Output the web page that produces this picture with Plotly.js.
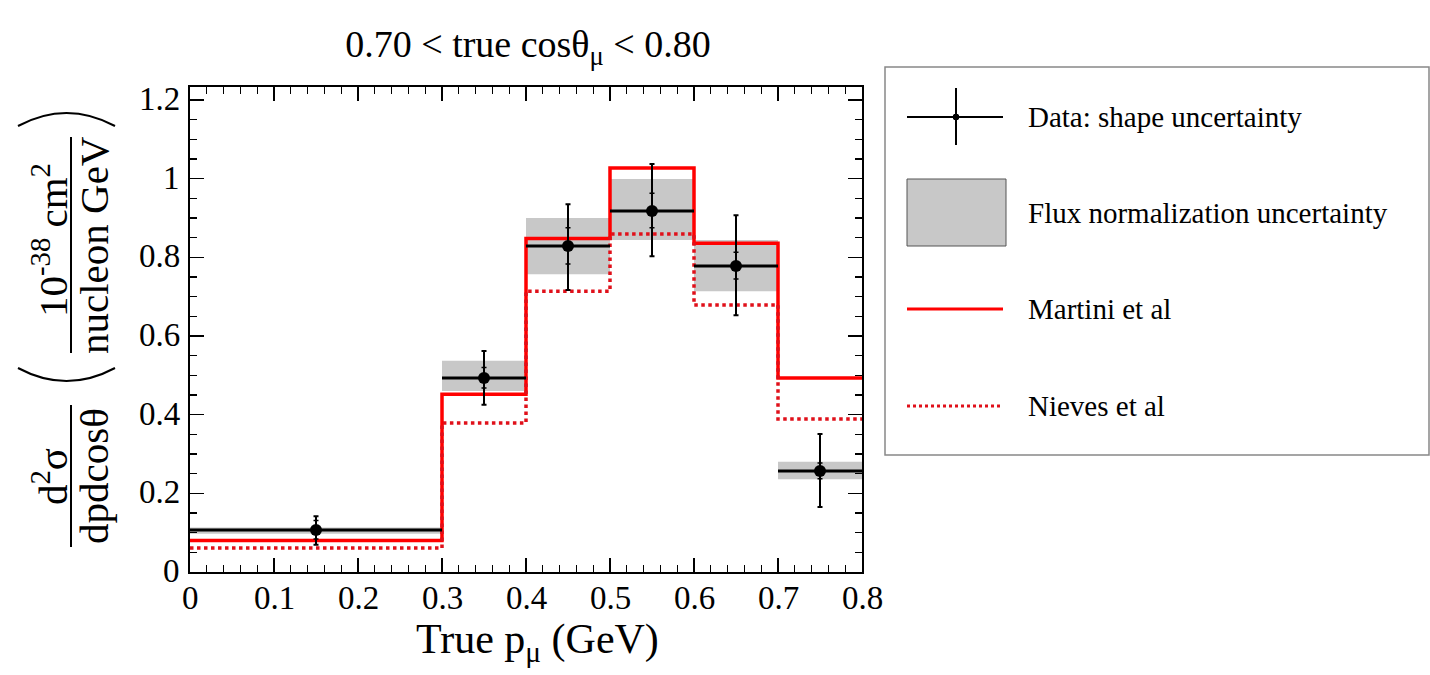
<!DOCTYPE html>
<html>
<head>
<meta charset="utf-8">
<script src="https://cdn.plot.ly/plotly-3.0.1.min.js"></script>
<style>html,body{margin:0;padding:0;background:#fff;}#chart{width:1430px;height:675px;}</style>
</head>
<body>
<div id="chart"></div>
<script>
// ---- data ----
const binLo = [0.0, 0.3, 0.4, 0.5, 0.6, 0.7];
const binHi = [0.3, 0.4, 0.5, 0.6, 0.7, 0.8];
const dataY = [0.107, 0.493, 0.829, 0.918, 0.778, 0.257];
const errUp = [0.035, 0.069, 0.106, 0.119, 0.129, 0.094];
const errDown = [0.038, 0.068, 0.112, 0.115, 0.125, 0.092];
const statUp = [0.024, 0.027, 0.046, 0.045, 0.035, 0.020];
const statDown = [0.023, 0.025, 0.046, 0.043, 0.033, 0.020];
const fluxLo = [0.097, 0.460, 0.757, 0.844, 0.714, 0.236];
const fluxHi = [0.113, 0.537, 0.900, 0.999, 0.844, 0.280];
const martini = [0.080, 0.452, 0.848, 1.027, 0.836, 0.493];
const nieves = [0.061, 0.379, 0.714, 0.859, 0.679, 0.389];
const xTickVals = [0, 0.1, 0.2, 0.3, 0.4, 0.5, 0.6, 0.7, 0.8];
const xTickText = ["0", "0.1", "0.2", "0.3", "0.4", "0.5", "0.6", "0.7", "0.8"];
const yTickVals = [0, 0.2, 0.4, 0.6, 0.8, 1.0, 1.2];
const yTickText = ["0", "0.2", "0.4", "0.6", "0.8", "1", "1.2"];
const legendLabels = ["Data: shape uncertainty", "Flux normalization uncertainty", "Martini et al", "Nieves et al"];

// ---- derived ----
const centers = binLo.map((l, i) => (l + binHi[i]) / 2);
const widths = binLo.map((l, i) => binHi[i] - l);
const halfW = widths.map(w => w / 2);
const edges = binLo.concat([binHi[binHi.length - 1]]);
const stepY = arr => arr.concat([arr[arr.length - 1]]);

const W = 1430, H = 675;
const L = 190, R = 862, T = 87, B = 572;
const px = x => (x - L) / (R - L);
const py = y => (B - y) / (B - T);

const FONT = "Liberation Serif";
const TICKSIZE = 33;

const traces = [
  {
    type: 'bar', x: centers, y: fluxHi.map((h, i) => h - fluxLo[i]), base: fluxLo,
    width: widths, marker: {color: '#c8c8c8', line: {width: 0}}, showlegend: false, hoverinfo: 'skip'
  },
  {
    type: 'scatter', mode: 'lines', x: edges, y: stepY(martini),
    line: {shape: 'hv', color: '#ff0000', width: 3.5}, showlegend: false
  },
  {
    type: 'scatter', mode: 'lines', x: edges, y: stepY(nieves),
    line: {shape: 'hv', color: '#e0101a', width: 3.5, dash: 'dot'}, showlegend: false
  },
  {
    type: 'scatter', mode: 'markers', x: centers, y: dataY,
    marker: {color: 'rgba(0,0,0,0)', size: 1},
    error_y: {type: 'data', symmetric: false, array: statUp, arrayminus: statDown, color: '#000', thickness: 1.5, width: 2.5},
    showlegend: false
  },
  {
    type: 'scatter', mode: 'markers', x: centers, y: dataY,
    marker: {color: '#000', size: 12},
    error_y: {type: 'data', symmetric: false, array: errUp, arrayminus: errDown, color: '#000', thickness: 2, width: 2.5},
    error_x: {type: 'data', array: halfW, color: '#000', thickness: 3, width: 0},
    showlegend: false
  }
];

const shapes = [];
const annotations = [];

// y-axis title: fraction bars and parentheses
shapes.push({type: 'line', xref: 'paper', yref: 'paper', x0: px(71), x1: px(71), y0: py(405), y1: py(547), line: {color: '#000', width: 2}});
shapes.push({type: 'line', xref: 'paper', yref: 'paper', x0: px(71), x1: px(71), y0: py(137), y1: py(353), line: {color: '#000', width: 2}});
function arc(x0, x1, yEnd, yApex) {
  const xm = (x0 + x1) / 2;
  const yc = 2 * yApex - yEnd;
  return `M ${px(x0)},${py(yEnd)} Q ${px(xm)},${py(yc)} ${px(x1)},${py(yEnd)}`;
}
shapes.push({type: 'path', xref: 'paper', yref: 'paper', path: arc(18, 115, 126, 113), line: {color: '#000', width: 2}});
shapes.push({type: 'path', xref: 'paper', yref: 'paper', path: arc(18, 115, 368, 381), line: {color: '#000', width: 2}});

function ann(text, x, y, size, opts) {
  annotations.push(Object.assign({
    text: text, xref: 'paper', yref: 'paper', x: px(x), y: py(y),
    xanchor: 'center', yanchor: 'middle', showarrow: false,
    font: {family: FONT, size: size, color: '#000'}
  }, opts || {}));
}
ann('d<sup>2</sup>σ', 50, 477, 41, {textangle: -90});
ann('dpdcosθ', 94, 476, 41, {textangle: -90});
ann('10<sup>-38</sup> cm<sup>2</sup>', 50, 240, 41, {textangle: -90});
ann('nucleon GeV', 94, 245, 41, {textangle: -90});

// tick labels (placed through the axis scales)
xTickVals.forEach((v, i) => annotations.push({
  text: xTickText[i], xref: 'x', yref: 'paper', x: v, y: py(598),
  xanchor: 'center', yanchor: 'middle', showarrow: false,
  font: {family: FONT, size: TICKSIZE, color: '#000'}
}));
yTickVals.forEach((v, i) => annotations.push({
  text: yTickText[i], xref: 'paper', yref: 'y', x: px(182), y: v,
  xanchor: 'right', yanchor: 'middle', showarrow: false, yshift: 1,
  font: {family: FONT, size: TICKSIZE, color: '#000'}
}));

// x title
ann('True p<sub>μ</sub> (GeV)', 537, 642, 42);

// legend box
shapes.push({type: 'rect', xref: 'paper', yref: 'paper', x0: px(885), x1: px(1429), y0: py(67), y1: py(455), line: {color: '#888', width: 1.5}, fillcolor: 'rgba(0,0,0,0)'});
// data symbol
shapes.push({type: 'line', xref: 'paper', yref: 'paper', x0: px(907), x1: px(1003), y0: py(117), y1: py(117), line: {color: '#000', width: 2}});
shapes.push({type: 'line', xref: 'paper', yref: 'paper', x0: px(956), x1: px(956), y0: py(88), y1: py(145), line: {color: '#000', width: 2}});
shapes.push({type: 'circle', xref: 'paper', yref: 'paper', x0: px(953), x1: px(959), y0: py(114), y1: py(120), line: {color: '#000', width: 1}, fillcolor: '#000'});
// flux box
shapes.push({type: 'rect', xref: 'paper', yref: 'paper', x0: px(907), x1: px(1006), y0: py(179), y1: py(246), line: {color: '#555', width: 1}, fillcolor: '#c8c8c8'});
// martini line
shapes.push({type: 'line', xref: 'paper', yref: 'paper', x0: px(907), x1: px(1003), y0: py(309), y1: py(309), line: {color: '#ff0000', width: 3}});
// nieves dotted
shapes.push({type: 'line', xref: 'paper', yref: 'paper', x0: px(907), x1: px(1003), y0: py(406), y1: py(406), line: {color: '#e0101a', width: 3, dash: 'dot'}});

const legY = [117, 213, 309, 406];
legendLabels.forEach((t, i) => ann(t, 1026, legY[i], 29, {xanchor: 'left'}));

const layout = {
  width: W, height: H,
  margin: {l: L, r: W - R, t: T, b: H - B, pad: 0},
  paper_bgcolor: '#fff', plot_bgcolor: '#fff',
  font: {family: FONT, size: TICKSIZE, color: '#000'},
  showlegend: false,
  barmode: 'overlay',
  title: {
    text: '0.70 < true cosθ<sub>μ</sub> < 0.80',
    font: {family: FONT, size: 38, color: '#000'},
    x: px(528), xref: 'paper', xanchor: 'center',
    y: 1 - 44 / H, yref: 'container', yanchor: 'middle'
  },
  xaxis: {
    range: [0, 0.8], tickmode: 'array', tickvals: xTickVals, showticklabels: false,
    showgrid: false, zeroline: false,
    showline: true, linecolor: '#000', linewidth: 2, mirror: 'ticks',
    ticks: 'inside', ticklen: 14, tickwidth: 1.5, tickcolor: '#000',
    minor: {dtick: 0.02, tick0: 0, ticks: 'inside', ticklen: 7, tickwidth: 1.2, tickcolor: '#000', showgrid: false},
    automargin: false
  },
  yaxis: {
    range: [0, 1.233], tickmode: 'array', tickvals: yTickVals, showticklabels: false,
    showgrid: false, zeroline: false,
    showline: true, linecolor: '#000', linewidth: 2, mirror: 'ticks',
    ticks: 'inside', ticklen: 14, tickwidth: 1.5, tickcolor: '#000',
    minor: {dtick: 0.05, tick0: 0, ticks: 'inside', ticklen: 7, tickwidth: 1.2, tickcolor: '#000', showgrid: false},
    automargin: false
  },
  shapes: shapes,
  annotations: annotations
};

Plotly.newPlot('chart', traces, layout, {displayModeBar: false, staticPlot: true});
</script>
</body>
</html>
